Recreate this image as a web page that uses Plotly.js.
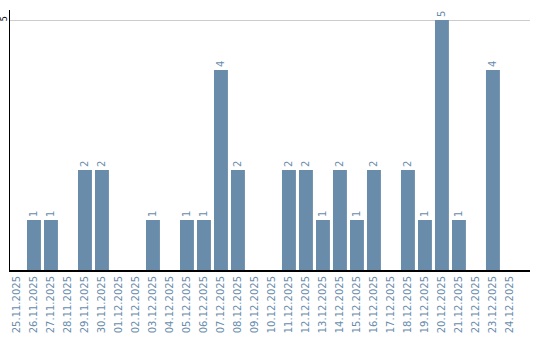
<!DOCTYPE html>
<html><head><meta charset="utf-8">
<script src="https://cdn.plot.ly/plotly-3.0.1.min.js"></script>
<style>html,body{margin:0;padding:0;background:#fff}#c{width:540px;height:340px}</style>
</head><body><div id="c"></div>
<script>
const dates = ["25.11.2025","26.11.2025","27.11.2025","28.11.2025","29.11.2025","30.11.2025","01.12.2025","02.12.2025","03.12.2025","04.12.2025","05.12.2025","06.12.2025","07.12.2025","08.12.2025","09.12.2025","10.12.2025","11.12.2025","12.12.2025","13.12.2025","14.12.2025","15.12.2025","16.12.2025","17.12.2025","18.12.2025","19.12.2025","20.12.2025","21.12.2025","22.12.2025","23.12.2025","24.12.2025"];
const counts = [0,1,1,0,2,2,0,0,1,0,1,1,4,2,0,0,2,2,1,2,1,2,0,2,1,5,1,0,4,0];
const labels = counts.map(v => v > 0 ? String(v) : "");
const barColor = "#6a8cab";
Plotly.newPlot("c", [{
  type: "bar", x: dates, y: counts, text: labels,
  textposition: "outside", textangle: -90, cliponaxis: false,
  textfont: {family: "DejaVu Sans", size: 10, color: barColor},
  marker: {color: barColor}, hoverinfo: "none"
}], {
  width: 540, height: 340,
  margin: {l: 10, r: 10, t: 10, b: 70},
  paper_bgcolor: "#fff", plot_bgcolor: "#fff",
  bargap: 0.18, showlegend: false,
  font: {family: "DejaVu Sans", size: 10},
  xaxis: {type: "category", range: [-0.41, 30.18], tickangle: -90, showgrid: false,
    showline: true, linecolor: "#000", linewidth: 2, ticks: "",
    tickfont: {family: "DejaVu Sans", size: 10, color: barColor}},
  yaxis: {range: [0, 5.2], tickvals: [5], ticktext: ["5"], tickangle: -90, showgrid: true,
    gridcolor: "#cccccc", gridwidth: 1, zeroline: false, showline: true, linecolor: "#000", linewidth: 1.5,
    ticks: "", ticklabelstandoff: -2, automargin: false,
    tickfont: {family: "DejaVu Sans", size: 8, color: "#000"}}
}, {staticPlot: true});
</script></body></html>
